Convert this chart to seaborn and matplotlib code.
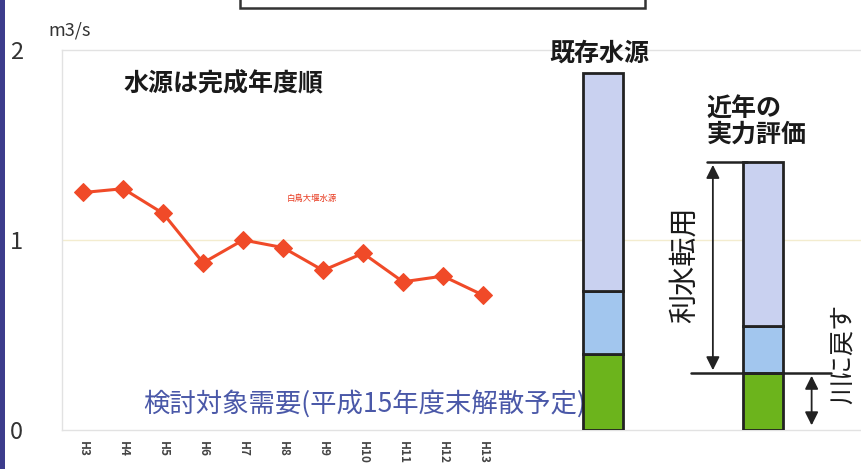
import matplotlib
matplotlib.use("Agg")
import matplotlib.pyplot as plt
import seaborn as sns
import pandas as pd
from matplotlib.patches import Rectangle

sns.set_theme(style="white")
plt.rcParams['font.family'] = ['Noto Sans CJK JP', 'DejaVu Sans']

# ---- data ----
years = ["H3", "H4", "H5", "H6", "H7", "H8", "H9", "H10", "H11", "H12", "H13"]
demand = [1.25, 1.27, 1.14, 0.88, 1.00, 0.96, 0.84, 0.93, 0.78, 0.81, 0.71]
bar_labels = ["既存水源", "近年の\n実力評価"]
bar_pos = [13, 17]
seg_green = [0.40, 0.30]
seg_blue = [0.33, 0.25]
seg_lav = [1.15, 0.86]
yticks = [0, 1, 2]

fig = plt.figure(figsize=(8.62, 4.69), dpi=100)
ax = fig.add_axes([62/862, 1-430/469, 800/862, 380/469])

df = pd.DataFrame({"x": range(len(years)), "y": demand})
sns.lineplot(data=df, x="x", y="y", ax=ax, color="#f04a28", lw=2.2,
             marker="D", markersize=9, markeredgecolor="#f04a28")

cols = ["#6cb41c", "#a2c6ee", "#c9d1f0"]
for i, xp in enumerate(bar_pos):
    b = 0
    for seg, c in zip([seg_green[i], seg_blue[i], seg_lav[i]], cols):
        ax.bar(xp, seg, bottom=b, width=1.0, color=c, edgecolor="#222222", lw=2, zorder=3)
        b += seg

ax.set_xlim(-0.53, 19.48)
ax.set_ylim(0, 2)
ax.set_xticks(range(len(years)))
ax.set_xticklabels(years, rotation=-90, fontsize=8.5, color="#444444", fontweight="bold")
ax.set_yticks(yticks)
ax.set_yticklabels([str(t) for t in yticks], fontsize=17, color="#333333")
ax.tick_params(axis="y", pad=28, length=0)
ax.tick_params(axis="x", pad=8, length=0)
ax.set_xlabel("")
ax.set_ylabel("")
for s in ax.spines.values():
    s.set_color("#e2e2e2")
    s.set_linewidth(1)
ax.axhline(1, color="#f3eccf", lw=1, zorder=0)

# decorative frame pieces of the original slide
fig.patches.append(Rectangle((240/862, 1-8/469), 405/862, 20/469, transform=fig.transFigure,
                             facecolor="white", edgecolor="#333333", lw=1.8))
fig.patches.append(Rectangle((0, 0), 5/862, 1, transform=fig.transFigure,
                             facecolor="#3c3c8c", edgecolor="none"))

fig.text(48/862, 1-30/469, "m3/s", fontsize=13, color="#333333", va="center")
ax.text(1.0, 1.82, "水源は完成年度順", fontsize=18, fontweight="bold", color="#1a1a1a", va="center")
ax.text(5.1, 1.22, "白鳥大堰水源", fontsize=6, color="#e83a20", va="center")
ax.text(1.5, 0.14, "検討対象需要(平成15年度末解散予定)", fontsize=19, color="#4a58a8",
        va="center", zorder=2)

tot = [g + b + l for g, b, l in zip(seg_green, seg_blue, seg_lav)]
ax.text(bar_pos[0] - 0.1, tot[0] + 0.04, bar_labels[0], fontsize=18, fontweight="bold",
        color="#1a1a1a", ha="center", va="bottom", clip_on=False)
ax.text(15.6, tot[1] + 0.08, bar_labels[1], fontsize=18, fontweight="bold",
        color="#1a1a1a", ha="left", va="bottom", linespacing=1.1)

# reference line and arrows
ax.plot([15.2, 18.7], [seg_green[1], seg_green[1]], color="#222222", lw=1.8, zorder=4)
ax.plot([15.6, 16.6], [tot[1], tot[1]], color="#222222", lw=1.8, zorder=4)
ax.annotate("", xy=(15.75, tot[1]), xytext=(15.75, seg_green[1]),
            arrowprops=dict(arrowstyle="<|-|>", color="#222222", lw=1.3, mutation_scale=20))
ax.annotate("", xy=(18.22, seg_green[1]), xytext=(18.22, 0.01),
            arrowprops=dict(arrowstyle="<|-|>", color="#222222", lw=1.3, mutation_scale=20))
ax.text(15.05, 0.87, "利水転用", rotation=90, fontsize=21, color="#1a1a1a", ha="center", va="center")
ax.text(19.0, 0.40, "川に戻す", rotation=90, fontsize=18, color="#1a1a1a", ha="center", va="center",
        clip_on=False)

fig.savefig("out.png", dpi=100)
